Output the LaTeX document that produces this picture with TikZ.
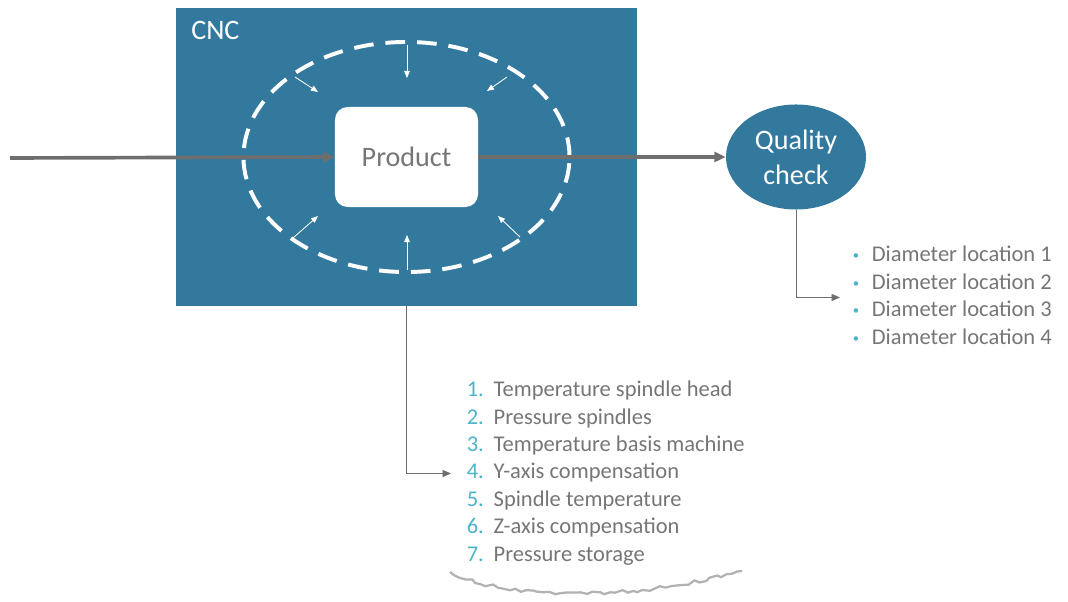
\documentclass[tikz,border=0pt]{standalone}
\usepackage{fontspec}
\setmainfont{Carlito}
\usepackage{xcolor}
\definecolor{cncblue}{RGB}{51, 121, 158}
\definecolor{textgray}{RGB}{118, 118, 118}
\definecolor{linegray}{RGB}{110, 110, 110}
\definecolor{listteal}{RGB}{75, 180, 200}
\usepackage{tikz}
\usetikzlibrary{arrows.meta,shapes.geometric,decorations.pathmorphing}

\begin{document}
\begin{tikzpicture}[x=0.025cm, y=-0.025cm, >={Triangle[length=8pt, width=7pt]},
    box/.style={draw=none, fill=cncblue, minimum width=11.525cm, minimum height=7.45cm, inner sep=0pt},
    product/.style={fill=white, rounded corners=9pt, minimum width=3.575cm, minimum height=2.5cm,
                    text=textgray, font=\fontsize{20}{24}\selectfont},
    checkpoint/.style={ellipse, fill=cncblue, minimum width=3.5cm, minimum height=2.625cm, inner sep=0pt,
                       text=white, align=center, font=\fontsize{20}{25}\selectfont},
    itemlist/.style={anchor=west, inner ysep=0pt, text=textgray,
                     font=\fontsize{16}{19.5}\selectfont},
    flow/.style={->, linegray, line width=2.6pt},
    feed/.style={->, linegray, line width=0.6pt, >={Triangle[length=6pt, width=5pt]}},
    force/.style={->, white, line width=0.6pt, >={Triangle[length=5pt, width=4pt]}}]
    \useasboundingbox (0,0) rectangle (1068,602);
    \newcommand{\dotmark}{{\color{listteal}\fontsize{9}{9}\selectfont\raisebox{1.5pt}{\textbullet}}}

    % Machine
    \node[box] (cnc) at (406.5,157) {};
    \node[anchor=base west, inner sep=0pt, text=white, font=\fontsize{20}{24}\selectfont] (cnclabel) at (191,40) {CNC};
    \draw[white, line width=2.8pt, dash pattern=on 14pt off 8.5pt] (406.5,157) ellipse [x radius=4.075cm, y radius=2.875cm];

    % Forces on the product
    \coordinate (f1) at (407,45);  \coordinate (g1) at (407,78);
    \coordinate (f2) at (295,77);  \coordinate (g2) at (318,92);
    \coordinate (f3) at (507,77);  \coordinate (g3) at (487,91);
    \coordinate (f4) at (293,238); \coordinate (g4) at (318,216);
    \coordinate (f5) at (407,270); \coordinate (g5) at (407,235);
    \coordinate (f6) at (520,237); \coordinate (g6) at (498,216);
    \foreach \i in {1,...,6}
        \draw[force] (f\i) -- (g\i);

    % Nodes
    \coordinate (start) at (10,158);
    \node[product] (prod) at (406.5,157) {Product};
    \node[checkpoint] (quality) at (796,157) {Quality\\check};

    \node[itemlist, inner xsep=9pt] (diams) at (840,297.5) {%
        \begin{tabular}{@{}l@{\hspace{9pt}}l@{}}
        \dotmark & Diameter location 1\\
        \dotmark & Diameter location 2\\
        \dotmark & Diameter location 3\\
        \dotmark & Diameter location 4
        \end{tabular}};
    \node[itemlist, inner xsep=11pt] (params) at (451,473.5) {%
        \begin{tabular}{@{}l@{\hspace{7pt}}l@{}}
        {\color{listteal}1.} & Temperature spindle head\\
        {\color{listteal}2.} & Pressure spindles\\
        {\color{listteal}3.} & Temperature basis machine\\
        {\color{listteal}4.} & Y-axis compensation\\
        {\color{listteal}5.} & Spindle temperature\\
        {\color{listteal}6.} & Z-axis compensation\\
        {\color{listteal}7.} & Pressure storage
        \end{tabular}};

    % Flow
    \draw[flow] (start) -- (prod.west);
    \draw[flow] (prod.east) -- (quality.west);
    \draw[feed] (cnc.south) |- (params.west);
    \draw[feed] (quality.south) |- (diams.west);

    % Torn edge
    \draw[gray!60, line width=1.6pt, decorate, decoration={random steps, segment length=4pt, amplitude=1.3pt}]
        (450,572) .. controls (520,606) and (650,596) .. (742,571);
\end{tikzpicture}
\end{document}
